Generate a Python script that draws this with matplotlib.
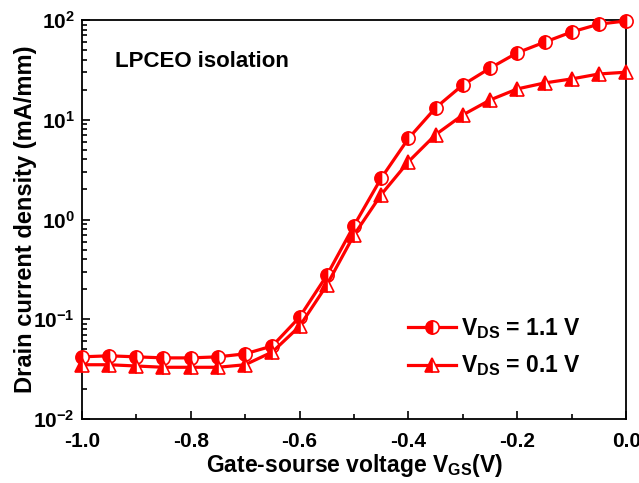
import matplotlib
matplotlib.use('Agg')
import matplotlib.pyplot as plt
from matplotlib.ticker import MultipleLocator, LogLocator, NullFormatter
import numpy as np

plt.rcParams['font.family'] = ['Liberation Sans', 'DejaVu Sans']
plt.rcParams['font.weight'] = 'bold'
plt.rcParams['mathtext.fontset'] = 'custom'
plt.rcParams['mathtext.rm'] = 'Liberation Sans:bold'
plt.rcParams['mathtext.bf'] = 'Liberation Sans:bold'

vgs = [-1.0, -0.95, -0.9, -0.85, -0.8, -0.75, -0.7, -0.65, -0.6, -0.55, -0.5,
       -0.45, -0.4, -0.35, -0.3, -0.25, -0.2, -0.15, -0.1, -0.05, 0.0]
id_11 = [0.042, 0.043, 0.042, 0.041, 0.041, 0.042, 0.045, 0.054, 0.105, 0.275, 0.87,
         2.6, 6.5, 13.2, 22.4, 33, 47, 60, 76, 91, 98]
id_01 = [0.035, 0.035, 0.034, 0.033, 0.033, 0.033, 0.035, 0.047, 0.085, 0.22, 0.70,
         1.78, 3.8, 7.1, 11.2, 15.8, 20.4, 23.4, 25.7, 28.8, 30]
labels = [r'V$_{\mathbf{DS}}$ = 1.1 V', r'V$_{\mathbf{DS}}$ = 0.1 V']

fig = plt.figure(figsize=(6.39, 4.83), dpi=100)
ax = fig.add_axes([0.128, 0.1325, 0.852, 0.826])

red = '#ff0000'
ax.plot(vgs, id_11, '-o', color=red, lw=2.3, ms=9.5, fillstyle='left',
        markerfacecoloralt='white', mec=red, mew=1.2, label=labels[0], clip_on=False, zorder=3)
ax.plot(vgs, id_01, '-^', color=red, lw=2.3, ms=10, fillstyle='left',
        markerfacecoloralt='white', mec=red, mew=1.2, label=labels[1], clip_on=False, zorder=3)

ax.set_yscale('log')
ax.set_xlim(-1.0, 0.0)
ax.set_ylim(1e-2, 1e2)
ax.xaxis.set_major_locator(MultipleLocator(0.2))
ax.xaxis.set_minor_locator(MultipleLocator(0.1))
ax.yaxis.set_major_locator(LogLocator(base=10, numticks=10))
ax.yaxis.set_minor_locator(LogLocator(base=10, subs=np.arange(2, 10), numticks=20))
ax.yaxis.set_minor_formatter(NullFormatter())
ax.xaxis.set_major_formatter(matplotlib.ticker.FormatStrFormatter('%.1f'))

ax.tick_params(which='both', direction='in', top=False, right=False, width=1.2)
ax.tick_params(which='major', length=6, labelsize=15)
ax.tick_params(which='minor', length=3.5)
ax.tick_params(axis='x', which='major', pad=9)
ax.tick_params(axis='y', which='major', pad=5)
for s in ax.spines.values():
    s.set_linewidth(1.3)

ax.set_xlabel(r'Gate-sourse voltage V$_{\mathbf{GS}}$(V)', fontsize=16.5, fontweight='bold', labelpad=1)
ax.set_ylabel('Drain current density (mA/mm)', fontsize=17, fontweight='bold', labelpad=-3)

ax.text(0.061, 0.895, 'LPCEO isolation', transform=ax.transAxes, fontsize=16, fontweight='bold', va='center')

ax.legend(loc='upper left', bbox_to_anchor=(0.599, 0.258), frameon=False, fontsize=16.5,
          handlelength=2.1, handletextpad=0.2, labelspacing=0.55, borderpad=0, borderaxespad=0)

fig.savefig('out.png', dpi=100)
